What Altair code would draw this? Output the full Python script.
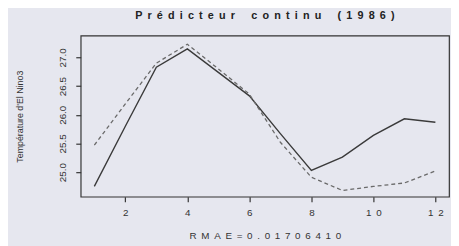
import altair as alt
import pandas as pd

months = [1, 2, 3, 4, 5, 6, 7, 8, 9, 10, 11, 12]
observed = [24.75, 25.80, 26.83, 27.15, 26.74, 26.33, 25.67, 25.03, 25.26, 25.64, 25.93, 25.87]
predicted = [25.47, 26.19, 26.90, 27.23, 26.80, 26.36, 25.52, 24.91, 24.68, 24.75, 24.81, 25.02]

x_ticks = [2, 4, 6, 8, 10, 12]
y_ticks = [25.0, 25.5, 26.0, 26.5, 27.0]

df = pd.DataFrame({"mois": months, "observe": observed, "prevu": predicted})

FONT = "Liberation Sans"
BG = "#e6e7ef"
GAP = "\u00a0\u2009"


def spaced(s):
    return GAP.join("\u00a0\u00a0" if c == " " else c for c in s)


title_text = spaced("Prédicteur continu (1986)")
x_title = spaced("RMAE=0.01706410")

x_enc = alt.X(
    "mois:Q",
    scale=alt.Scale(domain=[0.56, 12.44], nice=False, zero=False),
    axis=alt.Axis(
        values=x_ticks,
        title=x_title,
        labelExpr="datum.value == 10 ? '1\u00a0\u20090' : datum.value == 12 ? '1\u00a0\u20092' : datum.label",
        grid=False, domain=False, tickColor="#333", tickSize=5, tickWidth=1.2,
        labelFont=FONT, labelFontSize=10, labelColor="#333", labelPadding=6,
        titleFont=FONT, titleFontSize=10, titleFontWeight="normal", titleColor="#333",
        titlePadding=14,
    ),
)

y_axis = alt.Axis(
    values=y_ticks,
    format=".1f",
    title="Température d'El Nino3",
    grid=False, domain=False, tickColor="#333", tickSize=5, tickWidth=1.2,
    labelAngle=270, labelAlign="center", labelBaseline="bottom",
    labelFont=FONT, labelFontSize=10, labelColor="#333", labelPadding=8,
    titleFont=FONT, titleFontSize=9, titleFontWeight="normal", titleColor="#333",
    titlePadding=34,
)
y_scale = alt.Scale(domain=[24.57, 27.38], nice=False, zero=False)

solid = alt.Chart(df).mark_line(color="#3a3a3a", strokeWidth=1.4).encode(
    x=x_enc,
    y=alt.Y("observe:Q", scale=y_scale, axis=y_axis),
)

dashed = alt.Chart(df).mark_line(color="#6a6a6a", strokeWidth=1.3, strokeDash=[4, 3]).encode(
    x=alt.X("mois:Q"),
    y=alt.Y("prevu:Q"),
)

chart = alt.layer(solid, dashed).properties(
    width=375,
    height=164,
    title=alt.TitleParams(
        text=title_text,
        font=FONT, fontSize=11, fontWeight="bold", color="#222",
        anchor="middle", offset=15,
    ),
    autosize=alt.AutoSizeParams(type="none"),
    padding={"left": 74, "top": 26, "right": 2, "bottom": 48},
    background=BG,
).configure_view(stroke="#333", strokeWidth=1.2)

chart.save("out.html", embed_options={"renderer": "svg", "actions": False})
